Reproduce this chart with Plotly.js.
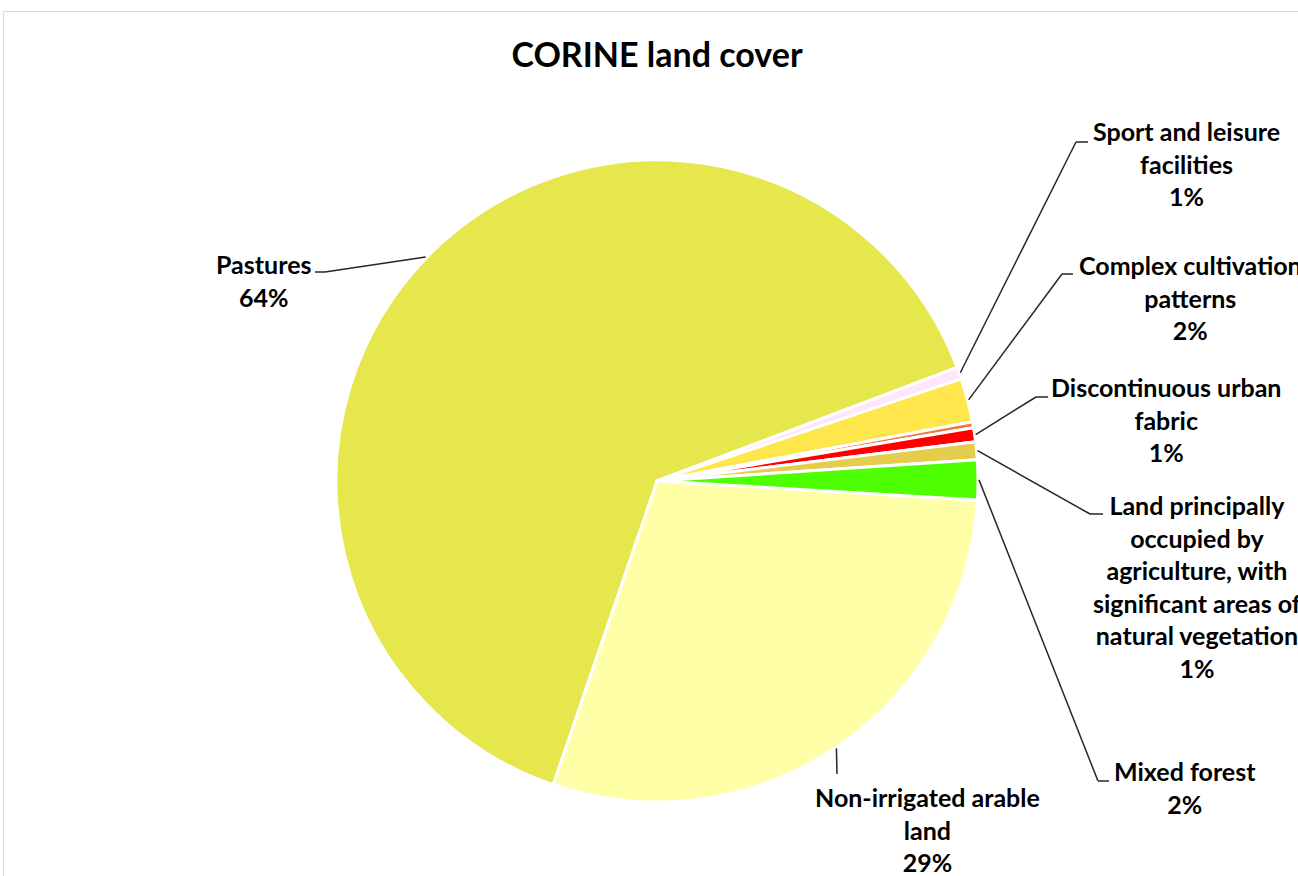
<!DOCTYPE html>
<html>
<head>
<meta charset="utf-8">
<script src="https://cdn.plot.ly/plotly-3.0.1.min.js"></script>
<style>html,body{margin:0;padding:0;background:#fff;}#chart{width:1298px;height:876px;}</style>
</head>
<body>
<div id="chart"></div>
<script>
// ---- data (clockwise order, starting just below 3 o'clock) ----
const categories = [
  "Non-irrigated arable land",
  "Pastures",
  "Sport and leisure facilities",
  "Complex cultivation patterns",
  "Other land cover",
  "Discontinuous urban fabric",
  "Land principally occupied by agriculture, with significant areas of natural vegetation",
  "Mixed forest"
];
const shares = [29.3, 64.0, 0.6, 2.2, 0.3, 0.7, 0.9, 2.0];
const colors = ["#FFFFA8", "#E6E64D", "#FFE6FF", "#FFE64D", "#EC7A3E", "#FF0000", "#E6CC4D", "#4DFF00"];
const wrappedLabels = [
  "Non-irrigated arable<br>land",
  "Pastures",
  "Sport and leisure<br>facilities",
  "Complex cultivation<br>patterns",
  null,
  "Discontinuous urban<br>fabric",
  "Land principally<br>occupied by<br>agriculture, with<br>significant areas of<br>natural vegetation",
  "Mixed forest"
];

// ---- layout constants ----
const W = 1298, H = 876;
const CX = 657, CY = 481, R = 321;
const ROT = 93.4;
const FONT = "Lato, 'Open Sans', sans-serif";
// label block centers and leader label-side points (px)
const labelPos = {
  0: {x: 927, y: 829, a: [837, 774], b: null},
  1: {x: 263, y: 280, a: [325, 272], b: [315, 272]},
  2: {x: 1186, y: 164, a: [1076, 142], b: [1088, 142]},
  3: {x: 1190, y: 298, a: [1062, 274], b: [1073, 274]},
  5: {x: 1166, y: 420, a: [1036, 397], b: [1048, 397]},
  6: {x: 1197, y: 586, a: [1090, 514], b: [1103, 514]},
  7: {x: 1185, y: 787, a: [1098, 781], b: [1109, 781]}
};

const px = x => x / W;
const py = y => 1 - y / H;

const total = shares.reduce((s, v) => s + v, 0);
const annotations = [];
const shapes = [];
shapes.push({type: 'rect', xref: 'paper', yref: 'paper', x0: px(3.5), x1: 1.05, y0: py(11.5), y1: -0.05,
  line: {color: '#D9D9D9', width: 1}, fillcolor: 'rgba(0,0,0,0)', layer: 'below'});

let cum = 0;
shares.forEach((v, i) => {
  const mid = ROT + (cum + v / 2) / total * 360;
  cum += v;
  const p = labelPos[i];
  if (!p || !wrappedLabels[i]) return;
  const pct = Math.round(v / total * 100) + '%';
  annotations.push({
    xref: 'paper', yref: 'paper', x: px(p.x), y: py(p.y), xanchor: 'center', yanchor: 'middle',
    text: wrappedLabels[i] + '<br>' + pct, showarrow: false, align: 'center',
    font: {family: FONT, size: 25, color: '#000', weight: 'bold'}
  });
  const rad = mid * Math.PI / 180;
  const ex = CX + (R + 1) * Math.sin(rad), ey = CY - (R + 1) * Math.cos(rad);
  shapes.push({type: 'line', xref: 'paper', yref: 'paper', x0: px(ex), y0: py(ey), x1: px(p.a[0]), y1: py(p.a[1]),
    line: {color: '#262626', width: 1.5}});
  if (p.b) shapes.push({type: 'line', xref: 'paper', yref: 'paper', x0: px(p.a[0]), y0: py(p.a[1]), x1: px(p.b[0]), y1: py(p.b[1]),
    line: {color: '#262626', width: 1.5}});
});

const trace = {
  type: 'pie',
  labels: categories,
  values: shares,
  sort: false,
  direction: 'clockwise',
  rotation: ROT,
  textinfo: 'none',
  hoverinfo: 'label+percent',
  marker: {colors: colors, line: {color: '#FFFFFF', width: 3}},
  domain: {x: [px(CX - R), px(CX + R)], y: [py(CY + R), py(CY - R)]},
  showlegend: false
};

const layout = {
  width: W, height: H,
  margin: {l: 0, r: 0, t: 0, b: 0},
  paper_bgcolor: '#FFFFFF',
  title: {text: 'CORINE land cover', x: px(657), xanchor: 'center', y: py(55), yanchor: 'middle',
    font: {family: FONT, size: 34, color: '#000', weight: 'bold'}},
  annotations: annotations,
  shapes: shapes,
  showlegend: false
};

Plotly.newPlot('chart', [trace], layout, {displayModeBar: false, staticPlot: true});
</script>
</body>
</html>
